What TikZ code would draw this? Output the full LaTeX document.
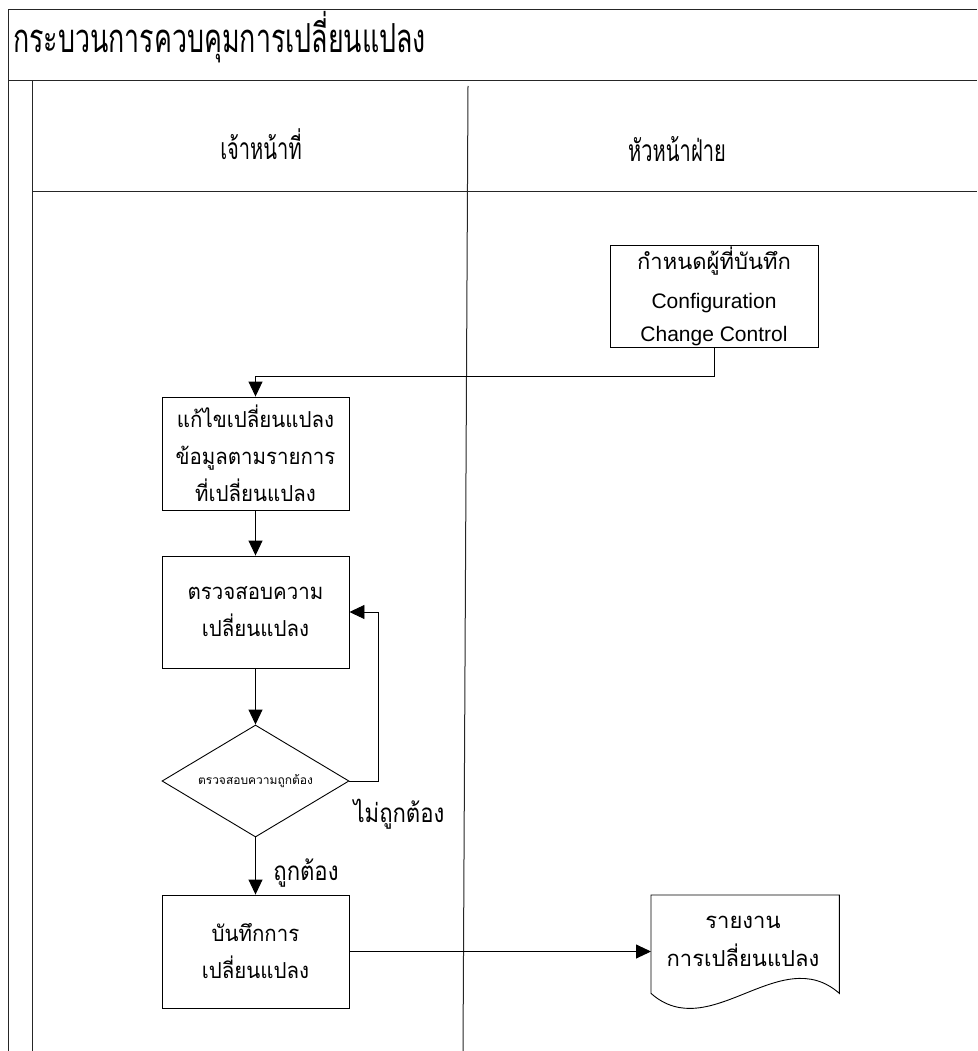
\documentclass[tikz,border=0pt]{standalone}
\usepackage{fontspec}
\usetikzlibrary{shapes.geometric,arrows.meta,calc}
\newfontfamily\thaititle[Script=Thai,FakeStretch=0.67]{Loma}
\newfontfamily\thailabel[Script=Thai,FakeStretch=0.85]{Loma}
\newfontfamily\thaistep[Script=Thai,FakeStretch=0.93]{Loma}
\newfontfamily\thaibox[Script=Thai]{Loma}
\newfontfamily\arialfont{Liberation Sans}

\begin{document}
\begin{tikzpicture}[x=1pt,y=-1pt,
  frame/.style={line width=1pt,draw=black!85},
  proc/.style={draw,line width=0.9pt,minimum width=187pt,minimum height=113pt,
    inner sep=0pt,align=center,font=\thaistep\fontsize{22}{37}\selectfont},
  arr/.style={-{Triangle[length=15pt,width=14pt]},line width=0.9pt},
  head/.style={anchor=base,font=\thaititle\fontsize{30}{30}\selectfont},
  lbl/.style={anchor=base,font=\thailabel\fontsize{26}{26}\selectfont}]
\useasboundingbox (0,0) rectangle (977,1051);

% pool frame and swimlanes
\draw[frame] (8,1051) -- (8,10) -- (977,10);
\draw[frame] (8,81) -- (977,81);
\draw[frame] (32,81) -- (32,1051);
\draw[frame] (32,191) -- (977,191);
\draw[frame] (468,86) -- (463,1051);

\node[anchor=base west,inner sep=0pt,font=\thaititle\fontsize{40}{40}\selectfont] (title) at (13,53) {กระบวนการควบคุมการเปลี่ยนแปลง};
\node[head] (laneA) at (261,160) {เจ้าหน้าที่};
\node[head] (laneB) at (677,162) {หัวหน้าฝ่าย};

% process steps
\node[proc,minimum width=208pt,minimum height=102pt,
  font=\fontsize{21}{33}\selectfont] (config) at (714,296)
  {{\thaibox\fontsize{22}{22}\selectfont กำหนดผู้ที่บันทึก}\\[6pt]\arialfont Configuration\\\arialfont Change Control};
\node[proc] (fix) at (255.5,453.5) {แก้ไขเปลี่ยนแปลง\\ข้อมูลตามรายการ\\ที่เปลี่ยนแปลง};
\node[proc,minimum height=112pt] (check) at (255.5,612) {ตรวจสอบความ\\เปลี่ยนแปลง};
\node[draw,diamond,line width=0.9pt,shape aspect=1.67,minimum width=187pt,minimum height=112pt,
  inner sep=0pt,font=\thaibox\fontsize{12}{12}\selectfont] (verify) at (255.5,781) {ตรวจสอบความถูกต้อง};
\node[proc] (record) at (255.5,951.5) {บันทึกการ\\เปลี่ยนแปลง};

% report document
\node[minimum width=188pt,minimum height=98pt,inner sep=0pt,anchor=north west] (report) at (651,895) {};
\draw[line width=0.9pt] (report.north west) -- (report.south west)
  .. controls ($(report.south west)+(59,52)$) and ($(report.south east)+(-59,-52)$) .. (report.south east)
  -- (report.north east) -- cycle;
\node[anchor=base,font=\thaibox\fontsize{22}{22}\selectfont] (reportA) at (743,928) {รายงาน};
\node[anchor=base,font=\thaibox\fontsize{22}{22}\selectfont] (reportB) at (743,966) {การเปลี่ยนแปลง};

% connectors
\draw[arr] (config.south) -- ++(0,29) -| (fix.north);
\draw[arr] (fix) -- (check);
\draw[arr] (check) -- (verify);
\draw[arr] (verify.east) -- ++(29,0) |- (check.east);
\draw[arr] (verify) -- (record);
\draw[arr] (record.east) -- (record.east -| report.west);

\node[lbl] (nok) at (399,822) {ไม่ถูกต้อง};
\node[lbl] (ok) at (306,880) {ถูกต้อง};
\end{tikzpicture}
\end{document}
